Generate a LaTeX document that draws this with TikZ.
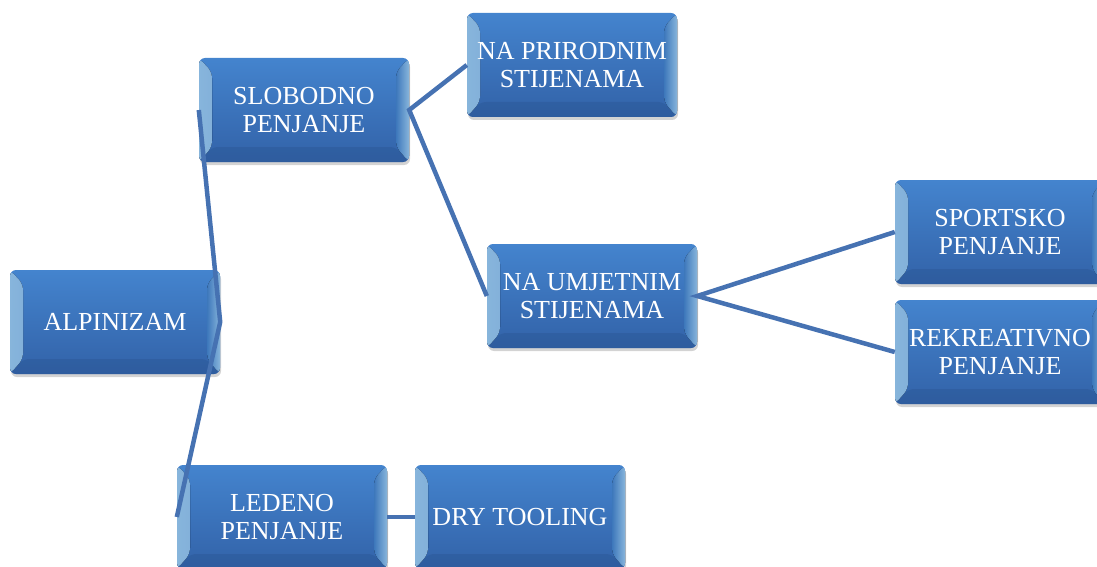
\documentclass[tikz,border=0pt]{standalone}
\usepackage{fontspec}
\setmainfont{Liberation Serif}
\usetikzlibrary{shadows}
\definecolor{blokT}{RGB}{68,132,206}\definecolor{blokB}{RGB}{50,98,168}
\definecolor{bevL}{RGB}{150,200,242}\definecolor{bevD}{RGB}{40,82,142}
\definecolor{veza}{RGB}{70,114,178}
\begin{document}
\begin{tikzpicture}
[x=1pt,y=-1pt, b/.style={rectangle,rounded corners=6pt,top color=blokT,bottom color=blokB,
text=white,font=\fontsize{26}{28}\selectfont,align=center,inner sep=0pt,
minimum width=210pt,minimum height=104pt,drop shadow={shadow xshift=1pt,shadow yshift=-3pt,opacity=.35},
path picture={\fill[left color=bevL,right color=blokT,opacity=.9](path picture bounding box.north west)--++(13pt,-14pt)
--([shift={(13pt,15pt)}]path picture bounding box.south west)--(path picture bounding box.south west)--cycle;
\fill[right color=bevL,left color=blokT,opacity=.9](path picture bounding box.north east)--++(-13pt,-14pt)
--([shift={(-13pt,15pt)}]path picture bounding box.south east)--(path picture bounding box.south east)--cycle;
\fill[bevD,opacity=.35](path picture bounding box.south west)--++(13pt,15pt)
--([shift={(-13pt,15pt)}]path picture bounding box.south east)--(path picture bounding box.south east)--cycle;}},
v/.style={veza,line width=4.5pt}]
\useasboundingbox (0,0) rectangle (1097,567);
\node(alp) at (115,322)[b]{ALPINIZAM};\node(slob) at (304,110)[b]{SLOBODNO\\PENJANJE};
\node(prir) at (572,65)[b]{NA PRIRODNIM\\STIJENAMA};\node(umj) at (592,296)[b]{NA UMJETNIM\\STIJENAMA};
\node(sport) at (1000,232)[b]{SPORTSKO\\PENJANJE};\node(rekr) at (1000,352)[b]{REKREATIVNO\\PENJANJE};
\node(led) at (282,517)[b]{LEDENO\\PENJANJE};\node(dry) at (520,517)[b]{DRY TOOLING};
\draw[v](slob.west)--(alp.east)--(led.west);\draw[v](prir.west)--(slob.east)--(umj.west);
\draw[v](sport.west)--(umj.east)--(rekr.west);\draw[v](led.east)--(dry.west);\end{tikzpicture}
\end{document}
